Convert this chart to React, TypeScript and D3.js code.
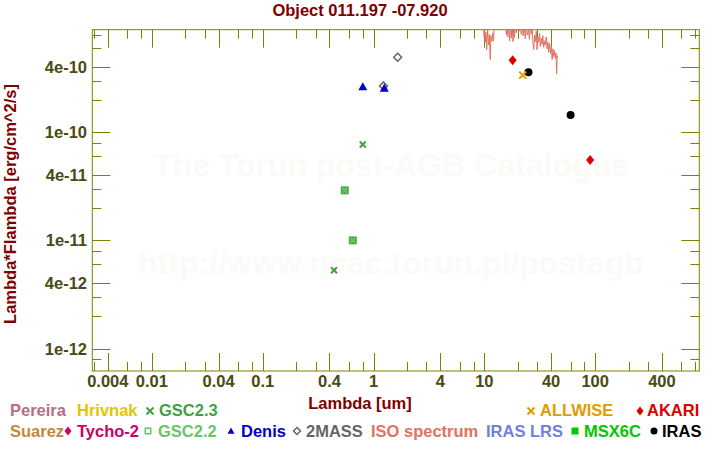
import React from "react";
import * as d3 from "d3";

// ---- data ----
const gsc23: [number, number][] = [[0.44, 5.3e-12], [0.80, 7.7e-11]];
const gsc22: [number, number][] = [[0.55, 2.9e-11], [0.65, 1.0e-11]];
const denis: [number, number][] = [[0.80, 2.64e-10], [1.25, 2.56e-10]];
const twomass: [number, number][] = [[1.23, 2.68e-10], [1.65, 4.93e-10]];
const akari: [number, number][] = [[18, 4.62e-10], [90, 5.55e-11]];
const allwise: [number, number][] = [[22.2, 3.37e-10]];
const iras: [number, number][] = [[25, 3.59e-10], [60, 1.44e-10]];

const isoWave = [
  9.85, 9.95, 10.05, 10.2, 10.35, 10.5, 10.7, 10.9, 11.1, 11.3, 11.45, 11.7, 11.9, 12.1, 12.3,
  12.6, 13.0, 13.5, 14.0, 14.5, 15.0, 15.5, 15.8, 16.0, 16.3, 16.6, 16.9, 17.2, 17.5, 17.8,
  18.1, 18.4, 18.7, 19.0, 19.4, 19.8, 20.2, 20.6, 21.1, 21.5, 22.0, 22.4, 22.9, 23.4, 23.9,
  24.4, 25.0, 25.5, 26.0, 26.5, 27.0, 27.5, 27.9, 28.4, 28.9, 29.4, 29.9, 30.4, 31.0, 31.5,
  32.0, 32.6, 33.2, 33.7, 34.3, 34.9, 35.5, 36.2, 36.8, 37.5, 38.1, 38.8, 39.5, 40.2, 40.9,
  41.6, 42.3, 43.0, 43.7, 44.3, 44.9, 45.4, 45.9,
];
const isoFlux = [
  9.5, 7.6, 9.2, 6.8, 8.4, 5.8, 9.0, 6.4, 8.0, 4.7, 7.8, 6.9, 8.3, 7.0, 9.5,
  11, 12.5, 11.8, 13, 12, 11, 10.2, 8.0, 9.6, 7.6, 10.2, 7.0, 9.4, 7.4, 10.5,
  6.9, 9.1, 7.5, 11.0, 8.3, 12.0, 10.5, 8.6, 11.5, 8.0, 10.2, 7.8, 9.6, 7.3, 9.9,
  7.9, 8.8, 7.2, 9.2, 8.1, 9.0, 6.6, 5.8, 7.9, 6.9, 8.6, 5.8, 7.6, 6.8, 8.2,
  6.2, 7.4, 6.5, 7.8, 6.1, 7.0, 6.4, 7.6, 5.9, 6.8, 5.5, 6.6, 5.3, 6.3, 4.7,
  5.9, 5.0, 5.7, 4.8, 5.4, 3.45, 5.1, 4.9,
].map((v) => v * 1e-10);

const xTickLabels = ["0.004", "0.01", "0.04", "0.1", "0.4", "1", "4", "10", "40", "100", "400"];
const yTickLabels = ["4e-10", "1e-10", "4e-11", "1e-11", "4e-12", "1e-12"];
const tickMultipliers = [1, 2, 3, 4, 6, 8];

const legendRow1 = [
  { label: "Pereira", color: "#b56f86", tx: 10, marker: null, mx: 0 },
  { label: "Hrivnak", color: "#e3c600", tx: 77, marker: null, mx: 0 },
  { label: "GSC2.3", color: "#43a143", tx: 159, marker: "x", mx: 150 },
  { label: "ALLWISE", color: "#e09c00", tx: 540, marker: "x", mx: 531 },
  { label: "AKARI", color: "#dd0000", tx: 647, marker: "diamond", mx: 640 },
];
const legendRow2 = [
  { label: "Suarez", color: "#c08a40", tx: 10, marker: null, mx: 0 },
  { label: "Tycho-2", color: "#cc0066", tx: 77, marker: "diamond", mx: 68 },
  { label: "GSC2.2", color: "#66c666", tx: 158, marker: "square-open", mx: 148 },
  { label: "Denis", color: "#0000c8", tx: 241, marker: "triangle", mx: 231 },
  { label: "2MASS", color: "#666666", tx: 306, marker: "diamond-open", mx: 297 },
  { label: "ISO spectrum", color: "#e07262", tx: 371, marker: null, mx: 0 },
  { label: "IRAS LRS", color: "#6f7fe0", tx: 486, marker: null, mx: 0 },
  { label: "MSX6C", color: "#00c800", tx: 584, marker: "square", mx: 575 },
  { label: "IRAS", color: "#000000", tx: 662, marker: "circle", mx: 654 },
];

const FONT = "'Liberation Sans', Arial, Helvetica, sans-serif";
const AXIS = "#808000";
const TICKTXT = "#4a4a14";
const MAROON = "#800000";

function Marker({ type, cx, cy, color, s }: { type: string | null; cx: number; cy: number; color: string; s: number }) {
  if (!type) return null;
  const h = s / 2;
  switch (type) {
    case "x":
      return (
        <g stroke={color} strokeWidth={2}>
          <line x1={cx - h} y1={cy - h} x2={cx + h} y2={cy + h} />
          <line x1={cx - h} y1={cy + h} x2={cx + h} y2={cy - h} />
        </g>
      );
    case "diamond":
      return <path d={`M${cx},${cy - h - 1}L${cx + h},${cy}L${cx},${cy + h + 1}L${cx - h},${cy}Z`} fill={color} />;
    case "diamond-open":
      return (
        <path d={`M${cx},${cy - h}L${cx + h},${cy}L${cx},${cy + h}L${cx - h},${cy}Z`} fill="none" stroke={color} strokeWidth={1.5} />
      );
    case "triangle":
      return <path d={`M${cx},${cy - h}L${cx + h},${cy + h * 0.8}L${cx - h},${cy + h * 0.8}Z`} fill={color} />;
    case "square":
      return <rect x={cx - h} y={cy - h} width={s} height={s} fill={color} />;
    case "square-open":
      return <rect x={cx - h + 0.75} y={cy - h + 0.75} width={s - 1.5} height={s - 1.5} fill="none" stroke={color} strokeWidth={1.5} />;
    case "circle":
      return <circle cx={cx} cy={cy} r={h} fill={color} />;
  }
  return null;
}

export default function App() {
  const left = 92.3, right = 699.3, top = 29.7, bottom = 371;
  const x = d3.scaleLog().domain([0.0029, 870]).range([left, right]);
  const y = d3.scaleLog().domain([6.2e-13, 8.87e-10]).range([bottom, top]);

  const xTicks: { v: number; major: boolean }[] = [];
  for (let k = -3; k <= 2; k++)
    for (const m of tickMultipliers) {
      const v = m * Math.pow(10, k);
      if (v > 0.0029 && v < 870) xTicks.push({ v, major: m === 1 || m === 4 });
    }
  const yTicks: { v: number; major: boolean }[] = [];
  for (let k = -13; k <= -10; k++)
    for (const m of tickMultipliers) {
      const v = m * Math.pow(10, k);
      if (v > 6.2e-13 && v < 8.87e-10) yTicks.push({ v, major: m === 1 || m === 4 });
    }
  const xLabelVals = xTickLabels.map(Number);
  const yLabelVals = yTickLabels.map(Number);

  const isoLine = d3
    .line<number>()
    .x((_, i) => x(isoWave[i]))
    .y((d) => y(d))(isoFlux) as string;

  return (
    <svg width={720} height={450} style={{ position: "absolute", left: 0, top: 0, background: "#fff" }} fontFamily={FONT} fontWeight="bold">
      <defs>
        <clipPath id="plot">
          <rect x={left} y={top} width={right - left} height={bottom - top} />
        </clipPath>
      </defs>
      <rect width={720} height={450} fill="#fff" />
      {/* watermark */}
      <text x={391} y={176} textAnchor="middle" fontSize={32} fill="#fcfaf6">The Torun post-AGB Catalogue</text>
      <text x={391} y={274} textAnchor="middle" fontSize={32} fill="#fcfaf6">http://www.ncac.torun.pl/postagb</text>

      {/* title */}
      <text x={360} y={16} textAnchor="middle" fontSize={16.5} fill={MAROON}>Object 011.197 -07.920</text>

      {/* ticks */}
      <g stroke={AXIS} strokeWidth={1}>
        {xTicks.map((t, i) => {
          const px = Math.round(x(t.v)) + 0.5;
          const L = t.major ? 18 : 9;
          return (
            <g key={"xt" + i}>
              <line x1={px} x2={px} y1={bottom} y2={bottom - L} />
              <line x1={px} x2={px} y1={top} y2={top + L} />
            </g>
          );
        })}
        {yTicks.map((t, i) => {
          const py = Math.round(y(t.v)) + 0.5;
          const L = t.major ? 18 : 9;
          return (
            <g key={"yt" + i}>
              <line y1={py} y2={py} x1={left} x2={left + L} />
              <line y1={py} y2={py} x1={right} x2={right - L} />
            </g>
          );
        })}
        <rect x={left} y={top} width={right - left} height={bottom - top} fill="none" />
      </g>

      {/* tick labels */}
      {xLabelVals.map((v, i) => (
        <text key={"xl" + i} x={x(v)} y={387} textAnchor="middle" fontSize={16.5} fill={TICKTXT}>{xTickLabels[i]}</text>
      ))}
      {yLabelVals.map((v, i) => (
        <text key={"yl" + i} x={87} y={y(v) + 6} textAnchor="end" fontSize={16.5} fill={TICKTXT}>{yTickLabels[i]}</text>
      ))}

      {/* axis titles */}
      <text x={360} y={409} textAnchor="middle" fontSize={16.5} fill={MAROON}>Lambda [um]</text>
      <text transform="translate(16,204) rotate(-90)" textAnchor="middle" fontSize={16.5} fill={MAROON}>Lambda*Flambda [erg/cm^2/s]</text>

      {/* data */}
      <g clipPath="url(#plot)">
        <path d={isoLine} fill="none" stroke="#e07262" strokeWidth={1} />
        {gsc22.map((d, i) => (
          <g key={"g22" + i}>
            <rect x={x(d[0]) - 4} y={y(d[1]) - 4} width={8} height={8} fill="#4aa84a" />
            <Marker type="x" cx={x(d[0])} cy={y(d[1])} color="#66c666" s={5} />
          </g>
        ))}
        {gsc23.map((d, i) => (
          <Marker key={"g23" + i} type="x" cx={x(d[0])} cy={y(d[1])} color="#43a143" s={6} />
        ))}
        {twomass.map((d, i) => (
          <Marker key={"tm" + i} type="diamond-open" cx={x(d[0])} cy={y(d[1])} color="#666666" s={8} />
        ))}
        {denis.map((d, i) => (
          <Marker key={"de" + i} type="triangle" cx={x(d[0])} cy={y(d[1])} color="#0000c8" s={9} />
        ))}
        {akari.map((d, i) => (
          <Marker key={"ak" + i} type="diamond" cx={x(d[0])} cy={y(d[1])} color="#dd0000" s={8} />
        ))}
        {iras.map((d, i) => (
          <Marker key={"ir" + i} type="circle" cx={x(d[0])} cy={y(d[1])} color="#000000" s={8} />
        ))}
        {allwise.map((d, i) => (
          <Marker key={"aw" + i} type="x" cx={x(d[0])} cy={y(d[1])} color="#e09c00" s={7} />
        ))}
      </g>

      {/* legend */}
      {legendRow1.map((l, i) => (
        <g key={"l1" + i}>
          <Marker type={l.marker} cx={l.mx} cy={411} color={l.color} s={7} />
          <text x={l.tx} y={416} fontSize={16.5} fill={l.color}>{l.label}</text>
        </g>
      ))}
      {legendRow2.map((l, i) => (
        <g key={"l2" + i}>
          <Marker type={l.marker} cx={l.mx} cy={431} color={l.color} s={7} />
          <text x={l.tx} y={437} fontSize={16.5} fill={l.color}>{l.label}</text>
        </g>
      ))}
    </svg>
  );
}
